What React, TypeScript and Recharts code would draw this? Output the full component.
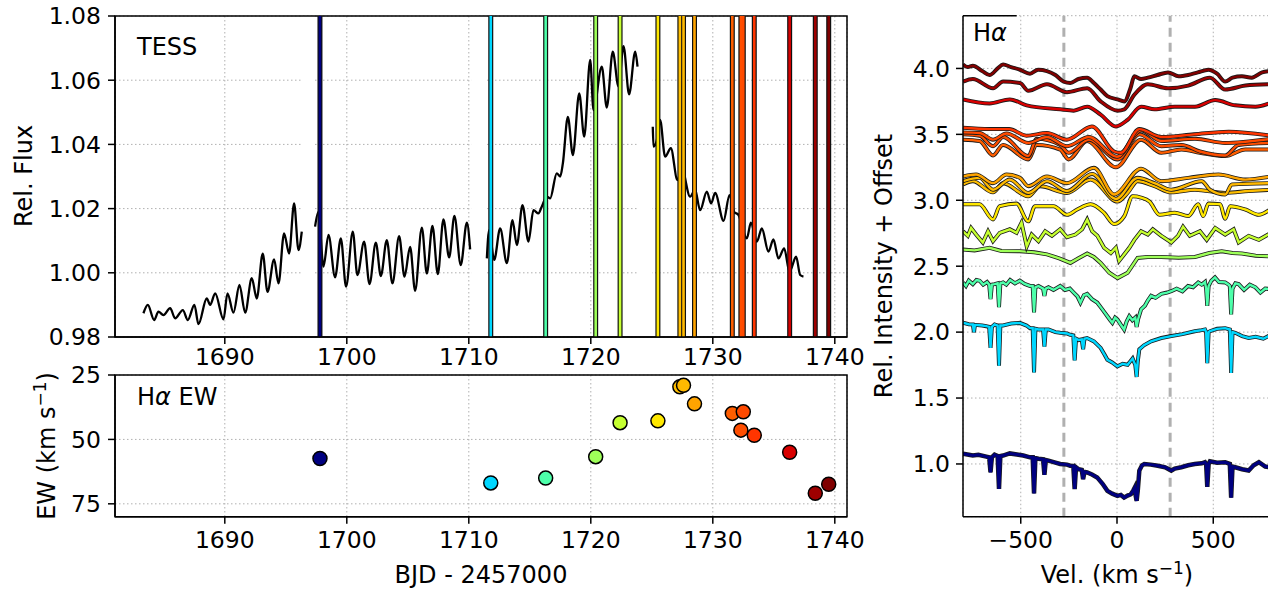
import React from "react";
import {
  LineChart,
  Line,
  ScatterChart,
  Scatter,
  XAxis,
  YAxis,
  CartesianGrid,
  ReferenceLine,
  ReferenceArea,
} from "recharts";

const FONT = "DejaVu Sans";

// observation epochs (BJD - 2457000), one per spectrum
const TIMES = [
  1697.8, 1711.8, 1716.3, 1720.4, 1722.4, 1725.5, 1727.3, 1727.6, 1728.5, 1731.6, 1732.3, 1732.5,
  1733.4, 1736.3, 1738.4, 1739.5,
];
// H-alpha equivalent widths
const EW = [57.4, 66.9, 65.0, 56.7, 43.5, 42.8, 29.6, 29.0, 36.2, 39.9, 46.4, 39.3, 48.4, 55.0, 70.9, 67.4];

const BJD_TICKS = [1690, 1700, 1710, 1720, 1730, 1740];
const FLUX_TICKS = [0.98, 1.0, 1.02, 1.04, 1.06, 1.08];
const EW_TICKS = [25, 50, 75];
const VEL_TICKS = [-500, 0, 500];
const INT_TICKS = [1.0, 1.5, 2.0, 2.5, 3.0, 3.5, 4.0];
const LINE_EDGES = [-276, 276];

// TESS light curve, four orbits: [bjd, flux]
const LC1 = [
  [1683.33, 0.9874], [1683.69, 0.99], [1684.21, 0.9853], [1684.56, 0.9879], [1684.97, 0.9868],
  [1685.52, 0.989], [1685.93, 0.9858], [1686.56, 0.9884], [1686.97, 0.9853], [1687.51, 0.99],
  [1687.84, 0.984], [1688.52, 0.992], [1688.8, 0.99], [1689.21, 0.9936], [1689.89, 0.9855],
  [1690.22, 0.9936], [1690.71, 0.9876], [1691.2, 0.9962], [1691.67, 0.9876], [1692.21, 0.9983],
  [1692.62, 0.992], [1693.11, 1.006], [1693.5, 0.9941], [1694.04, 1.0042], [1694.4, 0.9967],
  [1694.86, 1.0123], [1695.27, 1.006], [1695.68, 1.0216], [1696.04, 1.0071], [1696.31, 1.0128],
];
const LC2 = [
  [1697.4, 1.0144], [1697.67, 1.019], [1698.09, 1.0019], [1698.5, 1.0118], [1699.04, 0.9986],
  [1699.51, 1.0107], [1699.94, 0.9957], [1700.49, 1.0128], [1700.87, 0.9993], [1701.42, 1.0097],
  [1701.86, 0.9965], [1702.38, 1.0094], [1702.79, 0.999], [1703.28, 1.0102], [1703.74, 0.9967],
  [1704.29, 1.0114], [1704.73, 0.9988], [1705.19, 1.0081], [1705.6, 0.9944], [1706.15, 1.0141],
  [1706.56, 0.9998], [1707.02, 1.0146], [1707.46, 0.9996], [1707.92, 1.0166], [1708.39, 1.0048],
  [1708.82, 1.0177], [1709.34, 1.0024], [1709.84, 1.0156], [1710.11, 1.0073],
];
const LC3 = [
  [1711.48, 1.0045], [1711.67, 1.0133], [1712.08, 1.004], [1712.57, 1.0138], [1713.12, 1.003],
  [1713.58, 1.0164], [1713.94, 1.0086], [1714.4, 1.0211], [1714.89, 1.0097], [1715.3, 1.0195],
  [1715.71, 1.0185], [1715.98, 1.0206], [1716.39, 1.0237], [1716.67, 1.0232], [1717.21, 1.031],
  [1717.49, 1.03], [1717.71, 1.0341], [1718.12, 1.0486], [1718.53, 1.0367], [1719.05, 1.0559],
  [1719.46, 1.0424], [1719.95, 1.0663], [1720.22, 1.0507], [1720.9, 1.0642], [1721.31, 1.0515],
  [1721.8, 1.0689], [1722.27, 1.058], [1722.68, 1.0706], [1723.14, 1.0556], [1723.64, 1.0689],
  [1723.83, 1.0642],
];
const LC4 = [
  [1725.08, 1.0455], [1725.14, 1.0393], [1725.41, 1.0413], [1725.68, 1.0476], [1726.09, 1.0362],
  [1726.56, 1.0388], [1727.1, 1.0289], [1727.46, 1.0325], [1728.14, 1.0237], [1728.55, 1.0258],
  [1728.96, 1.0195], [1729.51, 1.0253], [1729.86, 1.0216], [1730.19, 1.0249], [1730.88, 1.0162],
  [1731.37, 1.0242], [1731.75, 1.019], [1732.11, 1.018], [1732.79, 1.0107], [1733.12, 1.0156],
  [1733.61, 1.0097], [1734.02, 1.0138], [1734.56, 1.0066], [1734.97, 1.0104], [1735.38, 1.0045],
  [1735.85, 1.0076], [1736.29, 1.0003], [1736.83, 1.005], [1737.16, 0.9993], [1737.43, 0.9988],
];

// H-alpha profiles (offset), [velocity km/s, intensity]
const S01 = [
  [-800, 1.077], [-770, 1.07], [-749, 1.064], [-720, 1.07], [-679, 1.056], [-664, 1.05], [-657, 0.936],
  [-650, 1.05], [-636, 1.07], [-620, 1.06], [-613, 0.81], [-606, 1.06], [-592, 1.064], [-557, 1.08],
  [-520, 1.072], [-487, 1.064], [-452, 1.05], [-438, 1.05], [-431, 0.776], [-424, 1.045], [-408, 1.04],
  [-384, 1.035], [-377, 0.918], [-370, 1.03], [-356, 1.025], [-320, 1.01], [-295, 1.0], [-260, 0.995],
  [-243, 0.987], [-227, 0.985], [-220, 0.81], [-213, 0.975], [-199, 0.96], [-183, 0.955], [-176, 0.885],
  [-169, 0.94], [-155, 0.936], [-130, 0.92], [-103, 0.898], [-75, 0.85], [-50, 0.796], [-25, 0.775],
  [2, 0.758], [20, 0.765], [37, 0.745], [55, 0.76], [72, 0.77], [85, 0.8], [92, 0.82], [97, 0.76],
  [102, 0.72], [108, 0.8], [116, 0.95], [130, 0.99], [142, 1.0], [175, 0.995], [212, 0.987], [250, 0.975],
  [282, 0.95], [300, 0.965], [334, 0.975], [370, 0.99], [404, 1.0], [440, 1.005], [457, 1.013], [463, 1.0],
  [469, 0.827], [476, 1.0], [483, 1.02], [520, 1.01], [562, 1.013], [586, 1.0], [593, 0.745], [600, 0.98],
  [614, 0.975], [650, 0.96], [684, 0.95], [710, 0.99], [737, 1.013], [770, 0.98], [800, 0.975],
];
const S02 = [
  [-800, 2.071], [-770, 2.06], [-749, 2.058], [-743, 2.0], [-738, 2.055], [-700, 2.05], [-679, 2.045],
  [-664, 2.04], [-657, 1.88], [-650, 2.04], [-636, 2.058], [-620, 2.05], [-613, 1.745], [-606, 2.05],
  [-592, 2.05], [-550, 2.065], [-505, 2.07], [-470, 2.05], [-452, 2.03], [-438, 2.03], [-431, 1.694],
  [-424, 2.025], [-408, 2.02], [-384, 2.02], [-377, 1.89], [-370, 2.02], [-356, 2.02], [-320, 2.0],
  [-295, 1.995], [-260, 1.99], [-243, 1.98], [-227, 1.975], [-220, 1.785], [-213, 1.95], [-199, 1.94],
  [-183, 1.945], [-176, 1.87], [-169, 1.95], [-155, 1.955], [-120, 1.93], [-85, 1.88], [-65, 1.83],
  [-50, 1.79], [-25, 1.77], [2, 1.74], [30, 1.76], [55, 1.752], [70, 1.78], [81, 1.8], [95, 1.75],
  [102, 1.66], [108, 1.78], [116, 1.87], [140, 1.9], [177, 1.93], [230, 1.955], [282, 1.97], [340, 1.985],
  [404, 2.007], [440, 2.015], [457, 2.02], [463, 2.0], [469, 1.765], [476, 2.0], [483, 2.007], [520, 2.025],
  [562, 2.03], [586, 2.02], [593, 1.69], [600, 2.0], [614, 1.995], [650, 1.97], [684, 1.956], [720, 1.965],
  [760, 1.95], [800, 1.98],
];
const S03 = [
  [-800, 2.377], [-785, 2.35], [-770, 2.39], [-749, 2.364], [-730, 2.395], [-714, 2.39], [-695, 2.36],
  [-675, 2.38], [-664, 2.36], [-657, 2.25], [-650, 2.36], [-636, 2.364], [-620, 2.37], [-613, 2.19],
  [-606, 2.37], [-592, 2.377], [-575, 2.36], [-555, 2.395], [-530, 2.37], [-505, 2.39], [-480, 2.365],
  [-452, 2.35], [-438, 2.35], [-431, 2.15], [-424, 2.34], [-408, 2.35], [-384, 2.33], [-377, 2.275],
  [-370, 2.33], [-356, 2.34], [-330, 2.32], [-295, 2.35], [-270, 2.32], [-245, 2.33], [-225, 2.3],
  [-205, 2.27], [-190, 2.224], [-172, 2.28], [-155, 2.29], [-130, 2.25], [-103, 2.224], [-80, 2.18],
  [-60, 2.14], [-50, 2.12], [-35, 2.09], [-24, 2.07], [-10, 2.11], [2, 2.096], [18, 2.06], [37, 2.02],
  [50, 2.08], [64, 2.12], [80, 2.09], [95, 2.11], [102, 2.04], [110, 2.1], [125, 2.173], [145, 2.2],
  [160, 2.24], [177, 2.275], [200, 2.26], [230, 2.29], [260, 2.3], [282, 2.31], [310, 2.33], [340, 2.31],
  [369, 2.35], [395, 2.34], [422, 2.377], [440, 2.36], [457, 2.38], [463, 2.33], [469, 2.2], [476, 2.35],
  [490, 2.39], [509, 2.415], [530, 2.38], [562, 2.377], [580, 2.36], [586, 2.35], [593, 2.135], [600, 2.33],
  [615, 2.37], [632, 2.364], [660, 2.32], [690, 2.36], [719, 2.34], [745, 2.3], [770, 2.33], [800, 2.326],
];
const S04 = [
  [-800, 2.626], [-740, 2.62], [-662, 2.64], [-600, 2.615], [-504, 2.614], [-430, 2.605], [-364, 2.59],
  [-300, 2.56], [-242, 2.525], [-200, 2.56], [-155, 2.596], [-120, 2.57], [-85, 2.525], [-40, 2.45],
  [3, 2.41], [55, 2.45], [107, 2.563], [160, 2.57], [230, 2.57], [320, 2.565], [405, 2.57], [480, 2.6],
  [544, 2.614], [600, 2.6], [649, 2.596], [720, 2.58], [800, 2.575],
];
const S05 = [
  [-800, 2.765], [-775, 2.73], [-758, 2.79], [-732, 2.74], [-697, 2.68], [-670, 2.765], [-644, 2.69],
  [-609, 2.753], [-557, 2.78], [-522, 2.753], [-496, 2.83], [-469, 2.65], [-443, 2.74], [-408, 2.69],
  [-373, 2.765], [-338, 2.73], [-295, 2.78], [-260, 2.72], [-216, 2.74], [-181, 2.78], [-155, 2.854],
  [-129, 2.765], [-102, 2.73], [-67, 2.64], [-32, 2.6], [-6, 2.64], [11, 2.54], [38, 2.59], [64, 2.64],
  [90, 2.7], [125, 2.765], [160, 2.74], [186, 2.78], [230, 2.73], [282, 2.68], [317, 2.73], [343, 2.8],
  [378, 2.73], [431, 2.765], [466, 2.7], [510, 2.79], [562, 2.74], [606, 2.78], [632, 2.68], [684, 2.73],
  [737, 2.7], [800, 2.753],
];
const S06 = [
  [-800, 2.97], [-714, 2.97], [-644, 2.855], [-609, 2.955], [-522, 2.975], [-461, 2.84], [-426, 2.955],
  [-330, 2.955], [-260, 2.89], [-207, 2.93], [-137, 2.97], [-67, 2.905], [-15, 2.82], [38, 2.88],
  [81, 3.03], [125, 3.02], [169, 2.99], [221, 2.89], [300, 2.905], [370, 2.88], [422, 2.97], [448, 2.88],
  [475, 2.975], [536, 2.97], [562, 2.86], [588, 2.955], [667, 2.93], [737, 2.89], [800, 2.935],
];
const S07 = [
  [-800, 3.12], [-749, 3.145], [-644, 3.06], [-592, 3.13], [-461, 3.03], [-400, 3.107], [-260, 3.056],
  [-137, 3.157], [3, 2.99], [55, 3.056], [107, 3.145], [195, 3.107], [282, 3.06], [405, 3.08], [562, 3.056],
  [684, 3.07], [800, 3.08],
];
const S08 = [
  [-800, 3.145], [-714, 3.17], [-644, 3.08], [-557, 3.157], [-461, 3.056], [-364, 3.145], [-260, 3.07],
  [-129, 3.2], [-6, 3.01], [107, 3.17], [195, 3.13], [282, 3.08], [440, 3.145], [483, 3.08], [562, 3.044],
  [597, 3.12], [800, 3.13],
];
const S09 = [
  [-800, 3.18], [-732, 3.195], [-644, 3.13], [-574, 3.195], [-504, 3.17], [-461, 3.107], [-364, 3.18],
  [-260, 3.13], [-120, 3.246], [-15, 3.044], [125, 3.24], [230, 3.145], [370, 3.17], [527, 3.195],
  [667, 3.157], [800, 3.18],
];
const S10 = [
  [-800, 3.46], [-714, 3.45], [-644, 3.34], [-592, 3.42], [-461, 3.31], [-417, 3.42], [-295, 3.385],
  [-251, 3.31], [-155, 3.45], [-6, 3.25], [125, 3.46], [230, 3.36], [335, 3.385], [431, 3.36], [562, 3.335],
  [667, 3.385], [800, 3.385],
];
const S11 = [
  [-800, 3.5], [-714, 3.49], [-644, 3.41], [-592, 3.48], [-461, 3.335], [-417, 3.466], [-295, 3.42],
  [-251, 3.36], [-146, 3.46], [3, 3.31], [116, 3.5], [230, 3.41], [335, 3.42], [431, 3.37], [562, 3.34],
  [632, 3.42], [800, 3.435],
];
const S12 = [
  [-800, 3.515], [-714, 3.51], [-644, 3.46], [-574, 3.507], [-461, 3.435], [-364, 3.48], [-260, 3.41],
  [-146, 3.48], [0, 3.33], [125, 3.53], [230, 3.45], [405, 3.466], [562, 3.435], [800, 3.466],
];
const S13 = [
  [-800, 3.55], [-662, 3.54], [-560, 3.54], [-470, 3.49], [-364, 3.51], [-260, 3.46], [-130, 3.56],
  [-15, 3.37], [20, 3.36], [116, 3.54], [230, 3.48], [400, 3.5], [580, 3.52], [800, 3.49],
];
const S14 = [
  [-800, 3.765], [-662, 3.735], [-557, 3.765], [-469, 3.72], [-295, 3.69], [-225, 3.68], [-155, 3.71],
  [-85, 3.65], [-6, 3.56], [55, 3.61], [125, 3.71], [195, 3.69], [300, 3.71], [405, 3.71], [510, 3.76],
  [614, 3.72], [719, 3.71], [800, 3.74],
];
const S15 = [
  [-800, 3.9], [-749, 3.92], [-644, 3.85], [-592, 3.9], [-504, 3.89], [-461, 3.83], [-364, 3.88],
  [-260, 3.82], [-155, 3.85], [-85, 3.75], [3, 3.68], [38, 3.69], [90, 3.8], [160, 3.88], [265, 3.85],
  [370, 3.87], [483, 3.93], [562, 3.84], [667, 3.87], [800, 3.88],
];
const S16 = [
  [-800, 4.03], [-775, 4.01], [-749, 4.02], [-700, 3.98], [-662, 3.95], [-620, 4.0], [-592, 4.03],
  [-550, 4.01], [-504, 3.99], [-452, 3.96], [-410, 3.99], [-364, 3.98], [-320, 3.95], [-277, 3.9],
  [-242, 3.89], [-200, 3.92], [-155, 3.93], [-120, 3.89], [-85, 3.84], [-50, 3.79], [3, 3.765], [38, 3.75],
  [70, 3.85], [90, 3.94], [125, 3.92], [160, 3.93], [210, 3.95], [265, 3.97], [320, 3.94], [370, 3.95],
  [420, 3.97], [475, 3.99], [520, 3.96], [562, 3.9], [600, 3.93], [649, 3.94], [700, 3.93], [754, 3.97],
  [800, 3.98],
];

const SPECTRA = [S01, S02, S03, S04, S05, S06, S07, S08, S09, S10, S11, S12, S13, S14, S15, S16];
const NOISY = 5; // first spectra are high-resolution, drawn without smoothing

// matplotlib "jet"
const JET: Record<string, number[][]> = {
  r: [[0, 0], [0.35, 0], [0.66, 1], [0.89, 1], [1, 0.5]],
  g: [[0, 0], [0.125, 0], [0.375, 1], [0.64, 1], [0.91, 0], [1, 0]],
  b: [[0, 0.5], [0.11, 1], [0.34, 1], [0.65, 0], [1, 0]],
};
function ramp(pts: number[][], x: number) {
  for (let i = 1; i < pts.length; i++) {
    if (x <= pts[i][0]) {
      const [x0, y0] = pts[i - 1];
      const [x1, y1] = pts[i];
      return y0 + ((x - x0) / (x1 - x0)) * (y1 - y0);
    }
  }
  return pts[pts.length - 1][1];
}
function jet(x: number) {
  const h = (c: string) =>
    Math.round(255 * Math.min(1, Math.max(0, ramp(JET[c], x))))
      .toString(16)
      .padStart(2, "0");
  return `#${h("r")}${h("g")}${h("b")}`;
}
const T0 = TIMES[0];
const T1 = TIMES[TIMES.length - 1];
const COLORS = TIMES.map((t) => jet((t - T0) / (T1 - T0)));

const lcSegments = [LC1, LC2, LC3, LC4].map((seg) => seg.map(([d, f]) => ({ d, f })));
const lcGaps = lcSegments.slice(1).map((seg, i) => [
  lcSegments[i][lcSegments[i].length - 1].d + 0.08,
  seg[0].d - 0.05,
]);
const ewPoints = TIMES.map((d, i) => ({ d, ew: EW[i], color: COLORS[i] }));
const spectra = SPECTRA.map((s) => s.map(([v, y]) => ({ v, y })));

const tickStyle = { fontSize: 23.5, fill: "#000", fontFamily: FONT };
const axisStyle = { stroke: "#000", strokeWidth: 1.5 };
const gridStyle = { stroke: "#b0b0b0", strokeDasharray: "1.5 2.5", strokeWidth: 1 };
const minus = (v: number) => String(v).replace("-", "\u2212");

function EwDot(props: any) {
  const { cx, cy, payload } = props;
  if (cx == null || cy == null) return null;
  return <circle cx={cx} cy={cy} r={7} fill={payload.color} stroke="#000" strokeWidth={1.5} />;
}

function LightCurve() {
  return (
    <LineChart width={900} height={370} margin={{ top: 16, right: 53, bottom: 3, left: 0 }}>
      <CartesianGrid {...gridStyle} />
      <XAxis
        type="number"
        dataKey="d"
        domain={[1681, 1741]}
        ticks={BJD_TICKS}
        interval={0}
        allowDataOverflow
        height={30}
        tickSize={7}
        tickMargin={4}
        tick={tickStyle}
        axisLine={axisStyle}
        tickLine={axisStyle}
      />
      <YAxis
        type="number"
        domain={[0.98, 1.08]}
        ticks={FLUX_TICKS}
        interval={0}
        allowDataOverflow
        width={115}
        tickSize={7}
        tickMargin={7}
        tick={tickStyle}
        tickFormatter={(v) => v.toFixed(2)}
        axisLine={axisStyle}
        tickLine={axisStyle}
      />
      {lcGaps.map(([a, b], i) => (
        <ReferenceArea key={`gap${i}`} x1={a} x2={b} fill="#fff" fillOpacity={1} stroke="none" />
      ))}
      {lcSegments.map((seg, i) => (
        <Line
          key={`lc${i}`}
          data={seg}
          dataKey="f"
          type="monotone"
          stroke="#000"
          strokeWidth={2.3}
          dot={false}
          isAnimationActive={false}
        />
      ))}
      {TIMES.map((t, i) => (
        <ReferenceLine key={`e${i}`} x={t} stroke="#111" strokeWidth={5} />
      ))}
      {TIMES.map((t, i) => (
        <ReferenceLine key={`c${i}`} x={t} stroke={COLORS[i]} strokeWidth={2.6} />
      ))}
      <ReferenceArea x1={1681} x2={1741} y1={0.98} y2={1.08} fill="none" stroke="#000" strokeWidth={1.5} />
    </LineChart>
  );
}

function EwPanel() {
  return (
    <ScatterChart width={900} height={231} margin={{ top: 15, right: 53, bottom: 39.3, left: 0 }}>
      <CartesianGrid {...gridStyle} />
      <XAxis
        type="number"
        dataKey="d"
        domain={[1681, 1741]}
        ticks={BJD_TICKS}
        interval={0}
        allowDataOverflow
        height={35}
        tickSize={7}
        tickMargin={8}
        tick={tickStyle}
        axisLine={axisStyle}
        tickLine={axisStyle}
      />
      <YAxis
        type="number"
        dataKey="ew"
        domain={[25, 80]}
        reversed
        ticks={EW_TICKS}
        interval={0}
        allowDataOverflow
        width={115}
        tickSize={7}
        tickMargin={7}
        tick={tickStyle}
        axisLine={axisStyle}
        tickLine={axisStyle}
      />
      <Scatter data={ewPoints} shape={EwDot} isAnimationActive={false} />
      <ReferenceArea x1={1681} x2={1741} y1={25} y2={80} fill="none" stroke="#000" strokeWidth={1.5} />
    </ScatterChart>
  );
}

function SpectraPanel() {
  return (
    <LineChart width={410} height={591} margin={{ top: 15.7, right: 9, bottom: 39.3, left: 0 }}>
      <CartesianGrid {...gridStyle} />
      <XAxis
        type="number"
        dataKey="v"
        domain={[-800, 800]}
        ticks={VEL_TICKS}
        interval={0}
        allowDataOverflow
        height={35}
        tickSize={7}
        tickMargin={8}
        tick={tickStyle}
        tickFormatter={minus}
        axisLine={axisStyle}
        tickLine={axisStyle}
      />
      <YAxis
        type="number"
        domain={[0.6, 4.4]}
        ticks={INT_TICKS}
        interval={0}
        allowDataOverflow
        width={93}
        tickSize={7}
        tickMargin={6}
        tick={tickStyle}
        tickFormatter={(v) => v.toFixed(1)}
        axisLine={axisStyle}
        tickLine={axisStyle}
      />
      {LINE_EDGES.map((v) => (
        <ReferenceLine key={`edge${v}`} x={v} stroke="#b0b0b0" strokeWidth={3} strokeDasharray="9 6" />
      ))}
      {spectra.flatMap((s, i) => [
        <Line
          key={`so${i}`}
          data={s}
          dataKey="y"
          type={i < NOISY ? "linear" : "monotone"}
          stroke="#1a1a1a"
          strokeWidth={i === 0 ? 4.5 : 4}
          dot={false}
          isAnimationActive={false}
        />,
        <Line
          key={`sc${i}`}
          data={s}
          dataKey="y"
          type={i < NOISY ? "linear" : "monotone"}
          stroke={COLORS[i]}
          strokeWidth={i === 0 ? 3 : 2.4}
          dot={false}
          isAnimationActive={false}
        />,
      ])}
      <ReferenceLine
        segment={[
          { x: -800, y: 4.4 },
          { x: -521, y: 4.4 },
        ]}
        stroke="#000"
        strokeWidth={1.5}
      />
    </LineChart>
  );
}

export default function App() {
  const txt = { fontFamily: FONT, fontSize: 24, fill: "#000" };
  return (
    <div
      style={{
        position: "absolute",
        left: 0,
        top: 0,
        width: 1268,
        height: 591,
        overflow: "hidden",
        background: "#fff",
      }}
    >
      <div style={{ position: "absolute", left: 0, top: 0 }}>
        <LightCurve />
      </div>
      <div style={{ position: "absolute", left: 0, top: 360 }}>
        <EwPanel />
      </div>
      <div style={{ position: "absolute", left: 870, top: 0 }}>
        <SpectraPanel />
      </div>
      <svg
        width={1268}
        height={591}
        style={{ position: "absolute", left: 0, top: 0, pointerEvents: "none" }}
      >
        <text x={137} y={55} {...txt}>TESS</text>
        <text x={137} y={405} {...txt}>
          H<tspan fontStyle="italic">α</tspan> EW
        </text>
        <text x={973} y={41} {...txt}>
          H<tspan fontStyle="italic">α</tspan>
        </text>
        <text x={31.5} y={176} transform="rotate(-90 31.5 176)" textAnchor="middle" {...txt}>
          Rel. Flux
        </text>
        <text x={54.5} y={446} transform="rotate(-90 54.5 446)" textAnchor="middle" {...txt}>
          EW (km s<tspan fontSize={17} dy={-9}>−1</tspan>
          <tspan dy={9}>)</tspan>
        </text>
        <text x={892} y={266} transform="rotate(-90 892 266)" textAnchor="middle" {...txt}>
          Rel. Intensity + Offset
        </text>
        <text x={481} y={583} textAnchor="middle" {...txt}>
          BJD - 2457000
        </text>
        <text x={1117} y={583} textAnchor="middle" {...txt}>
          Vel. (km s<tspan fontSize={17} dy={-9}>−1</tspan>
          <tspan dy={9}>)</tspan>
        </text>
      </svg>
    </div>
  );
}
